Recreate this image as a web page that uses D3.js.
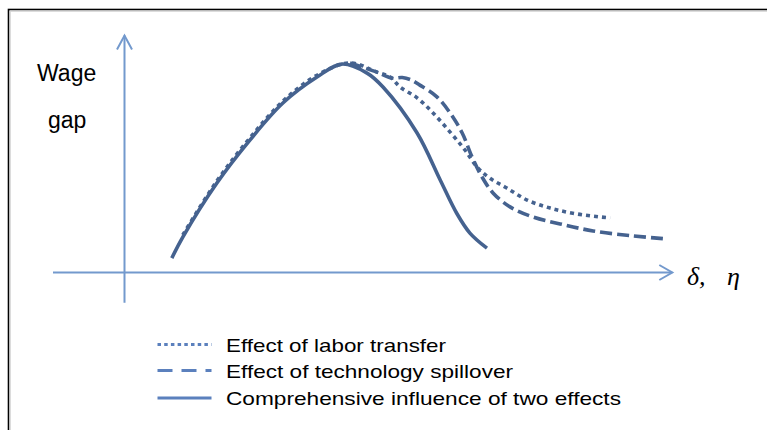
<!DOCTYPE html>
<html>
<head>
<meta charset="utf-8">
<script src="https://cdn.jsdelivr.net/npm/d3@7"></script>
<style>
  body { margin: 0; background: #fff; }
  svg { display: block; }
</style>
</head>
<body>
<div class="chart"></div>
<script>
const width = 767
const height = 430

// curves, x and y in axis units (0..100)
const combined = [[8.6, 6.1], [10.6, 15.0], [16.8, 37.9], [22.8, 56.1], [28.8, 71.8], [35, 82.8],
  [39.5, 88.3], [44.1, 84.5], [47, 78.6], [53.2, 59.1], [57.4, 39.2], [60.4, 25.1], [62.8, 16.7], [65.9, 10.3]]

const laborTransfer = [[10.6, 15.9], [16.8, 38.8], [22.8, 57.0], [28.8, 72.6], [35, 83.6], [41, 88.8],
  [45.9, 84.9], [48.3, 82.8], [50.1, 78.6], [53.2, 74.0], [56.1, 67.6], [59.2, 59.5], [61.9, 51.9],
  [64.1, 44.7], [66.4, 40.0], [69.5, 35.8], [73.2, 30.7], [77.4, 27.3], [82.3, 24.8], [88.3, 23.1]]

const techSpillover = [[41, 88.8], [45.9, 84.9], [48.6, 82.4], [50.5, 82.6], [52.1, 81.6], [53.7, 79.4],
  [56.8, 74.4], [59.2, 67.6], [61.4, 59.1], [63.2, 48.9], [65.0, 40.5], [67.0, 33.7], [70.1, 27.8],
  [74.3, 23.5], [79.2, 20.6], [85.2, 17.6], [92.5, 15.5], [98.6, 14.2]]

const legendLabels = ["Effect of labor transfer", "Effect of technology spillover", "Comprehensive influence of two effects"]
const xAxisExtent = [-13, 99.6]
const yAxisExtent = [-12.8, 100.4]

const curveColor = "#45628f"
const legendColor = "#5b80bd"
const axisColor = "#7399cd"

const x = d3.scaleLinear().domain([0, 100]).range([124.5, 674.5])
const y = d3.scaleLinear().domain([0, 100]).range([272.5, 36.5])

const svg = d3.create("svg")
  .attr("width", width)
  .attr("height", height)
  .attr("viewBox", [0, 0, width, height])

// frame
svg.append("rect")
  .attr("x", 8.5).attr("y", 9.5)
  .attr("width", 800).attr("height", 500)
  .attr("fill", "none")
  .attr("stroke", "#000")
  .attr("stroke-width", 1.6)
svg.append("path")
  .attr("d", "M10,11.3H767M10.3,11V430")
  .attr("stroke", "#d4d4d4")
  .attr("stroke-width", 1)

// axes with open arrowheads
const axes = svg.append("g")
  .attr("stroke", axisColor)
  .attr("stroke-width", 2)
  .attr("fill", "none")

axes.append("line")
  .attr("x1", x(xAxisExtent[0])).attr("x2", x(xAxisExtent[1]))
  .attr("y1", y(0)).attr("y2", y(0))
axes.append("path")
  .attr("d", `M${x(xAxisExtent[1]) - 13},${y(0) - 7.5}L${x(xAxisExtent[1])},${y(0)}L${x(xAxisExtent[1]) - 13},${y(0) + 7.5}`)

axes.append("line")
  .attr("x1", x(0)).attr("x2", x(0))
  .attr("y1", y(yAxisExtent[0])).attr("y2", y(yAxisExtent[1]))
axes.append("path")
  .attr("d", `M${x(0) - 7.5},${y(yAxisExtent[1]) + 14}L${x(0)},${y(yAxisExtent[1])}L${x(0) + 7.5},${y(yAxisExtent[1]) + 14}`)

// axis labels
svg.append("text")
  .attr("x", 37).attr("y", 81)
  .style("font", "23px 'Liberation Sans', Arial, sans-serif")
  .text("Wage")
svg.append("text")
  .attr("x", 48).attr("y", 128)
  .style("font", "23px 'Liberation Sans', Arial, sans-serif")
  .text("gap")

svg.append("text")
  .attr("x", 687).attr("y", 285)
  .style("font", "italic 26px 'Liberation Serif', 'Times New Roman', serif")
  .text("δ,")
svg.append("text")
  .attr("x", 727).attr("y", 285)
  .style("font", "italic 26px 'Liberation Serif', 'Times New Roman', serif")
  .text("η")

// curves
const line = d3.line()
  .x(d => x(d[0]))
  .y(d => y(d[1]))
  .curve(d3.curveCatmullRom.alpha(0.5))

const series = [
  {data: laborTransfer, dash: "4,4"},
  {data: techSpillover, dash: "12,5"},
  {data: combined, dash: null}
]

svg.append("g")
  .selectAll()
  .data(series)
  .join("path")
  .attr("d", d => line(d.data))
  .attr("fill", "none")
  .attr("stroke", curveColor)
  .attr("stroke-width", 3.6)
  .attr("stroke-dasharray", d => d.dash)

// legend
const legendDash = ["3.5,3.2", "15,9", null]
const legendY = [344.5, 370.5, 398]
const legendLen = [220, 287, 395]

const legend = svg.append("g")
  .selectAll()
  .data(legendLabels)
  .join("g")
  .attr("transform", (d, i) => `translate(0,${legendY[i]})`)

legend.append("line")
  .attr("x1", 157.5).attr("x2", 211.5)
  .attr("stroke", legendColor)
  .attr("stroke-width", 3.2)
  .attr("stroke-dasharray", (d, i) => legendDash[i])

legend.append("text")
  .attr("x", 226).attr("y", 7)
  .attr("textLength", (d, i) => legendLen[i])
  .attr("lengthAdjust", "spacingAndGlyphs")
  .style("font", "19px 'Liberation Sans', Arial, sans-serif")
  .attr("fill", "#000")
  .text(d => d)

document.querySelector(".chart").append(svg.node())
</script>
</body>
</html>
